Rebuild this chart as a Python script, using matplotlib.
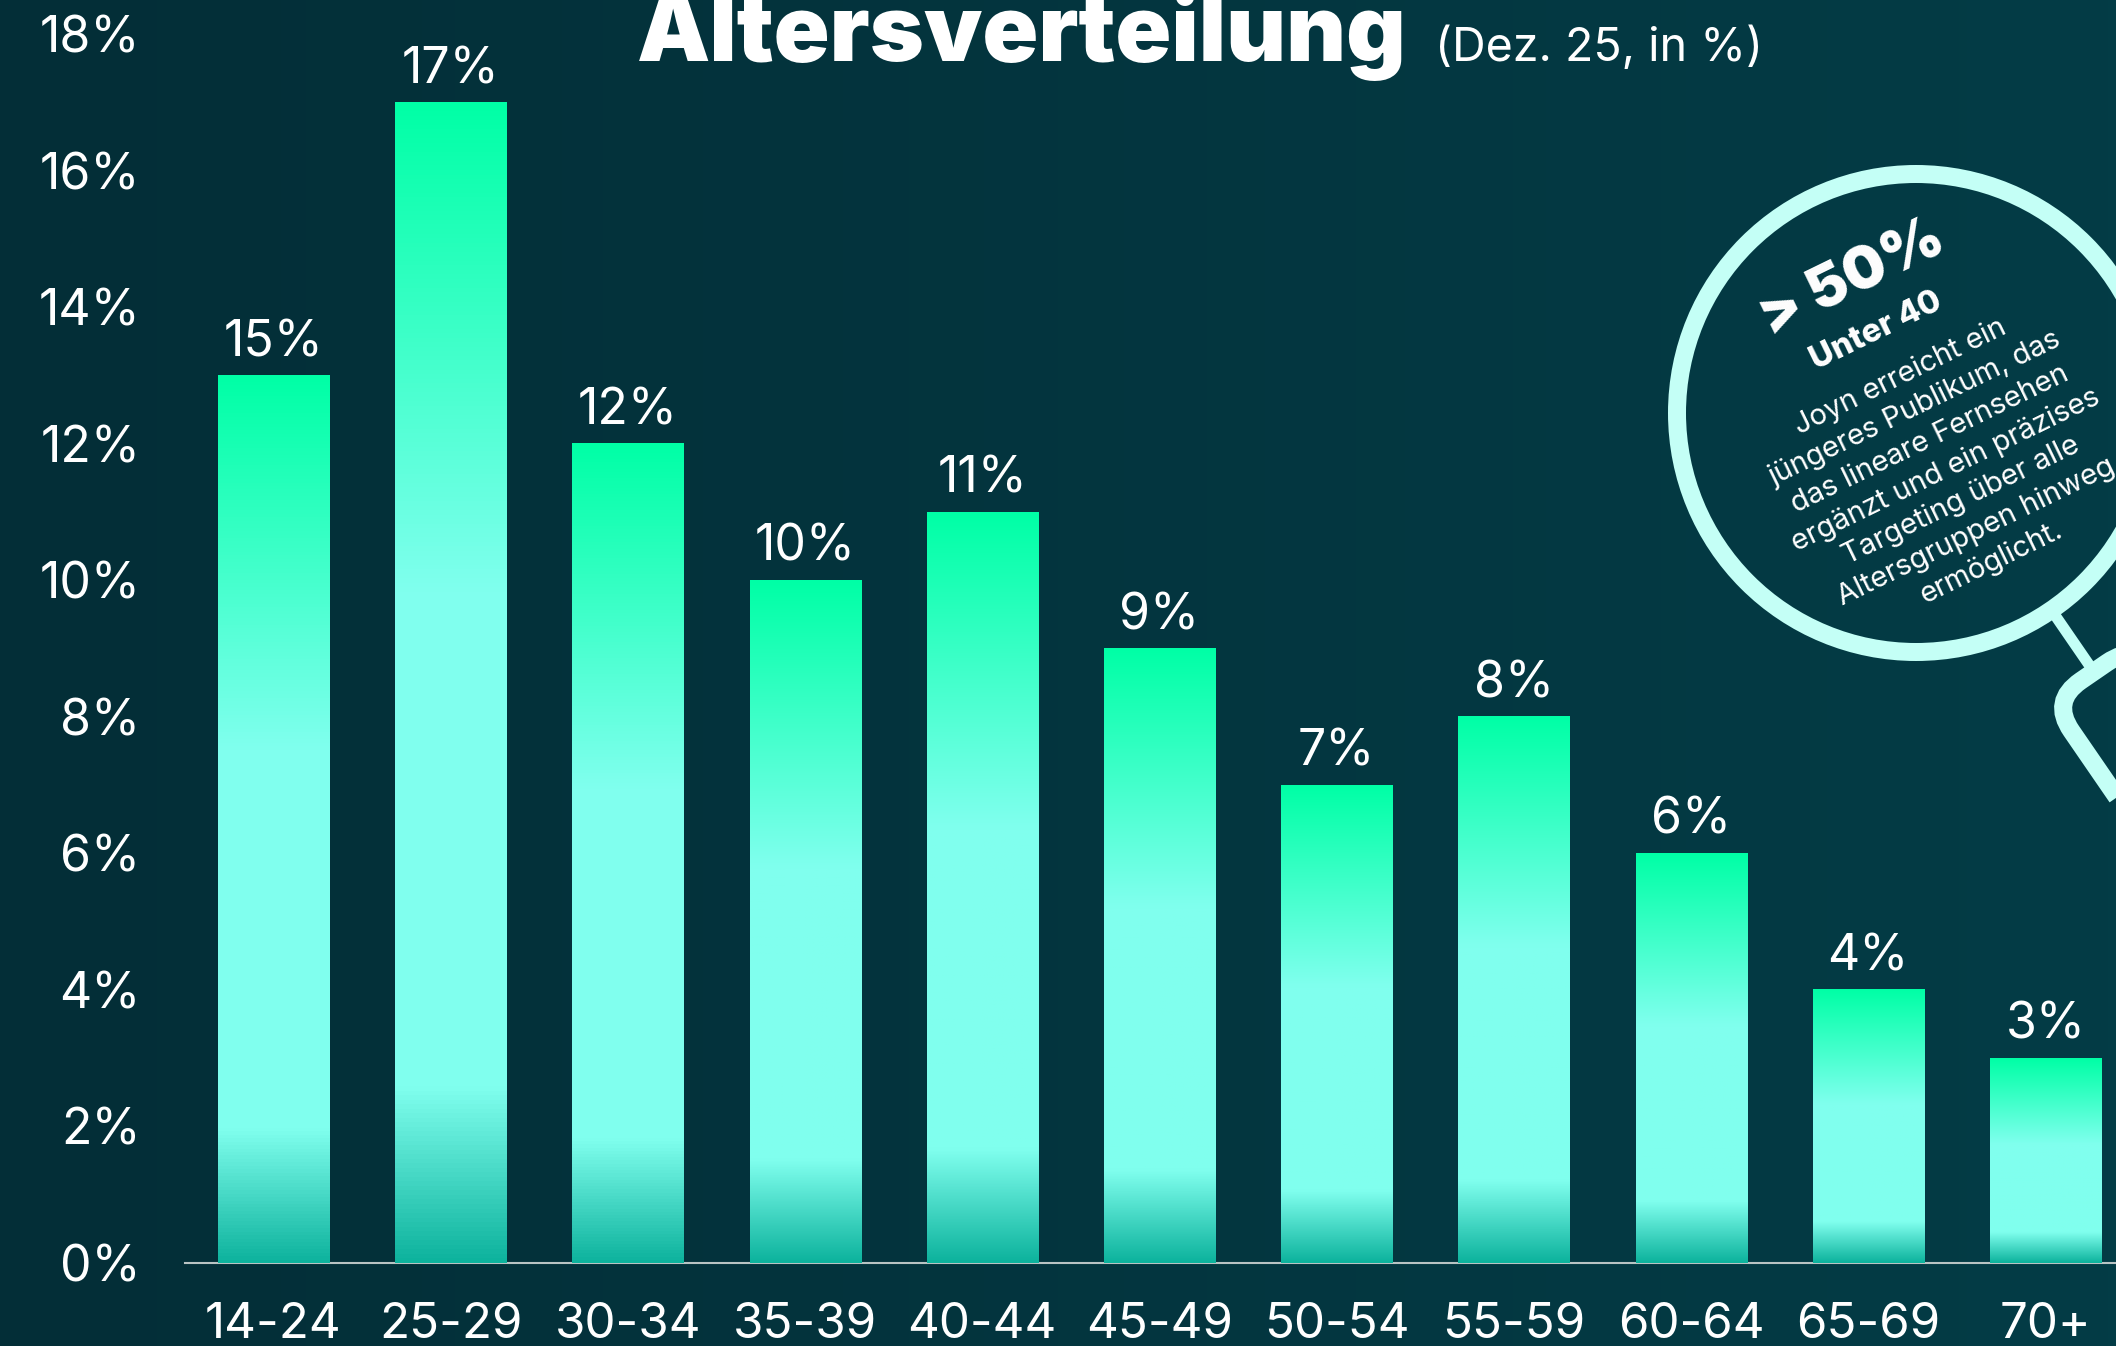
import numpy as np
import matplotlib
matplotlib.use('Agg')
import matplotlib.pyplot as plt
from matplotlib.colors import LinearSegmentedColormap
from matplotlib.patches import Circle, FancyBboxPatch
from matplotlib.transforms import Affine2D

plt.rcParams['font.family'] = ['Inter', 'Lato', 'DejaVu Sans']

# Data
age_groups = ['14-24', '25-29', '30-34', '35-39', '40-44', '45-49', '50-54', '55-59', '60-64', '65-69', '70+']
bar_heights = [13, 17, 12, 10, 11, 9, 7, 8, 6, 4, 3]
bar_labels = ['15%', '17%', '12%', '10%', '11%', '9%', '7%', '8%', '6%', '4%', '3%']
y_ticks = [0, 2, 4, 6, 8, 10, 12, 14, 16, 18]
y_tick_labels = ['0%', '2%', '4%', '6%', '8%', '10%', '12%', '14%', '16%', '18%']
body_lines = ['Joyn erreicht ein', 'jüngeres Publikum, das', 'das lineare Fernsehen', 'ergänzt und ein präzises',
              'Targeting über alle', 'Altersgruppen hinweg', 'ermöglicht.']

W, H = 2116, 1346
BAR_CMAP = LinearSegmentedColormap.from_list('bar', [(0, '#0db39d'), (0.15, '#80ffee'), (0.58, '#80ffee'), (1, '#00ffa6')])
BG_CMAP = LinearSegmentedColormap.from_list('bg', ['#032e37', '#033c46'])
RING = '#c4fff6'

fig = plt.figure(figsize=(W / 100, H / 100), dpi=100)

# Background, also used as pixel canvas for title and magnifier
bg = fig.add_axes([0, 0, 1, 1])
bg.imshow(np.linspace(0, 1, 256).reshape(1, -1), cmap=BG_CMAP, extent=[0, W, H, 0], aspect='auto', zorder=0)
bg.set_xlim(0, W)
bg.set_ylim(H, 0)
bg.axis('off')

# Chart
y0 = 1263
unit = 68.26
first, pitch = 273.5, 177.2
ax = fig.add_axes([185 / W, 1 - y0 / H, (W - 185) / W, y0 / H])
ax.patch.set_alpha(0)
bars = ax.bar(range(len(age_groups)), bar_heights, width=0.627, color='#80ffee', zorder=2)
grad = np.linspace(1, 0, 256).reshape(-1, 1)
for b, label in zip(bars, bar_labels):
    x0, x1 = b.get_x(), b.get_x() + b.get_width()
    ax.imshow(grad, cmap=BAR_CMAP, extent=[x0, x1, 0, b.get_height()], aspect='auto', zorder=3, clip_path=b)
    ax.annotate(label, (b.get_x() + b.get_width() / 2, b.get_height()), xytext=(0, 14), textcoords='offset points',
                ha='center', va='baseline', color='white', fontsize=36)

ax.set_xlim((185 - first) / pitch, (W - first) / pitch)
ax.set_ylim(0, y0 / unit)
ax.set_xticks(range(len(age_groups)))
ax.set_xticklabels(age_groups)
ax.set_yticks(y_ticks)
ax.set_yticklabels(y_tick_labels)
ax.tick_params(axis='x', length=0, pad=28, labelsize=35.5, colors='white')
ax.tick_params(axis='y', length=0, pad=32, labelsize=36, colors='white')
for s in ['top', 'right', 'left']:
    ax.spines[s].set_visible(False)
ax.spines['bottom'].set_color('#b9c4c4')
ax.spines['bottom'].set_linewidth(1.5)

# Title
bg.text(637, 61, 'Altersverteilung', color='white', fontsize=66.5, fontweight='black', va='baseline', ha='left', zorder=5)
bg.text(1435, 61, '(Dez. 25, in %)', color='white', fontsize=33.5, va='baseline', ha='left', zorder=5)

# Magnifier
cx, cy = 1916, 413
ring_lw = 18 * 0.72
bg.add_patch(Circle((cx, cy), 239, fill=False, ec=RING, lw=ring_lw, zorder=5))
rot = Affine2D().rotate_deg(55.5).translate(cx, cy) + bg.transData
bg.plot([245, 314], [0, 0], color=RING, lw=11 * 0.72, solid_capstyle='butt', transform=rot, zorder=5)
bg.add_patch(FancyBboxPatch((354, -12), 420, 24, boxstyle='round,pad=40,rounding_size=36', fill=False, ec=RING,
                            lw=ring_lw, transform=rot, zorder=5))

# Magnifier text, lines run along the rotated axis
ang = 26
s, c = np.sin(np.radians(ang)), np.cos(np.radians(ang))
bg.text(1853, 279, '> 50%', color='white', fontsize=43, fontweight='black', rotation=ang, rotation_mode='anchor',
        ha='center', va='center', zorder=6)
bg.text(1876, 331, 'Unter 40', color='white', fontsize=23.5, fontweight='heavy', rotation=ang, rotation_mode='anchor',
        ha='center', va='center', zorder=6)
for i, line in enumerate(body_lines):
    d = 34.5 * i
    bg.text(1900 + s * d, 377 + c * d, line, color='white', fontsize=21, rotation=ang, rotation_mode='anchor',
            ha='center', va='center', zorder=6)

fig.savefig('out.png', dpi=100)
